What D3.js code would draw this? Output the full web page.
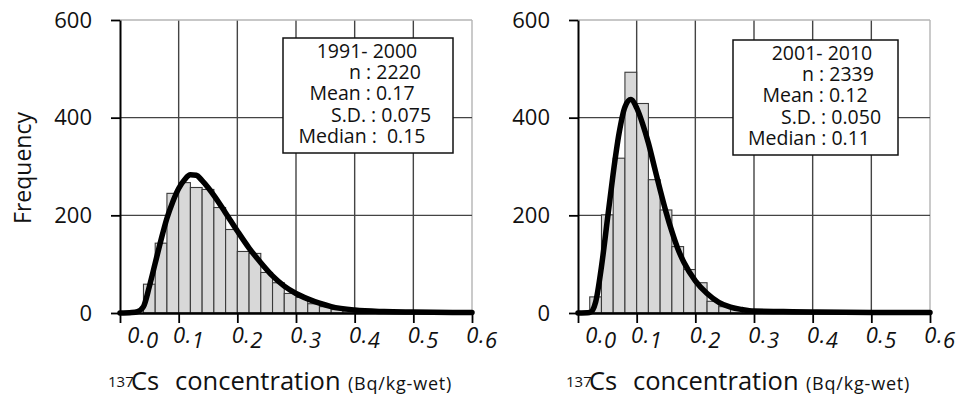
<!DOCTYPE html>
<html>
<head>
<meta charset="utf-8">
<script src="https://cdn.jsdelivr.net/npm/d3@7"></script>
<style>
  body { margin: 0; background: #fff; }
  svg { display: block; font-family: "Open Sans", sans-serif; }
</style>
</head>
<body>
<svg id="chart" width="960" height="405"></svg>
<script>
// histogram bins: left edge of each bin (Bq/kg-wet), all bins 0.02 wide
const binWidth = 0.02;
const leftBins = [0.04, 0.06, 0.08, 0.10, 0.12, 0.14, 0.16, 0.18, 0.20, 0.22, 0.24,
  0.26, 0.28, 0.30, 0.32, 0.34, 0.36, 0.38, 0.40, 0.42, 0.44, 0.46];
const leftCounts = [59, 143, 245, 267, 257, 253, 216, 171, 126, 122, 83,
  62, 40, 32, 19, 13, 7, 4, 3, 2, 2, 1];

const rightBins = [0.02, 0.04, 0.06, 0.08, 0.10, 0.12, 0.14, 0.16, 0.18, 0.20,
  0.22, 0.24, 0.26, 0.28, 0.30];
const rightCounts = [33, 201, 317, 493, 429, 273, 211, 136, 89, 62, 24, 13, 7, 3, 2];

// fitted curves
const leftCurveX = [0, 0.02, 0.03, 0.04, 0.05, 0.06, 0.07, 0.08, 0.09, 0.10, 0.11, 0.12,
  0.13, 0.14, 0.15, 0.16, 0.18, 0.20, 0.22, 0.24, 0.26, 0.28, 0.30, 0.32, 0.34, 0.36,
  0.40, 0.45, 0.50, 0.60];
const leftCurveY = [0, 1, 3, 13, 54, 102, 150, 194, 228, 255, 273, 283,
  282, 271, 257, 241, 205, 168, 133, 103, 76, 55, 40, 29, 20, 13,
  6, 3, 2, 1];

const rightCurveX = [0, 0.02, 0.025, 0.03, 0.04, 0.05, 0.06, 0.07, 0.08, 0.09, 0.10, 0.11,
  0.12, 0.13, 0.14, 0.15, 0.16, 0.17, 0.18, 0.20, 0.22, 0.24, 0.26, 0.28, 0.30, 0.35,
  0.40, 0.50, 0.60];
const rightCurveY = [0, 1, 6, 22, 95, 190, 286, 368, 422, 437, 420, 388,
  348, 300, 252, 207, 167, 132, 105, 66, 40, 22, 12, 7, 4, 3,
  2, 1, 1];

const xTicks = [0, 0.1, 0.2, 0.3, 0.4, 0.5, 0.6];
const yTicks = [0, 200, 400, 600];

const leftStats = ["1991- 2000", "n : 2220", "Mean : 0.17", "S.D. : 0.075", "Median :  0.15"];
const rightStats = ["2001- 2010", "n : 2339", "Mean : 0.12", "S.D. : 0.050", "Median : 0.11"];

const svg = d3.select("#chart");
svg.append("rect").attr("width", 960).attr("height", 405).attr("fill", "#fff");

function drawPanel(p) {
  const x = d3.scaleLinear().domain([0, 0.6]).range([p.left, p.left + 352]);
  const y = d3.scaleLinear().domain([0, 600]).range([313, 20]);
  const g = svg.append("g");

  // grid lines (top and right ones are the light frame)
  g.selectAll(".vgrid").data(xTicks.slice(1)).join("line")
    .attr("x1", d => x(d)).attr("x2", d => x(d))
    .attr("y1", y(0)).attr("y2", y(600))
    .attr("stroke", d => d === 0.6 ? "#b4b4b4" : "#444")
    .attr("stroke-width", 1.4);
  g.selectAll(".hgrid").data(yTicks.slice(1)).join("line")
    .attr("x1", x(0)).attr("x2", x(0.6))
    .attr("y1", d => y(d)).attr("y2", d => y(d))
    .attr("stroke", d => d === 600 ? "#b4b4b4" : "#444")
    .attr("stroke-width", 1.4);

  // bars
  const bars = p.bins.map((b, i) => ({ x0: b, n: p.counts[i] }));
  g.selectAll(".bar").data(bars).join("rect")
    .attr("x", d => x(d.x0))
    .attr("width", d => x(d.x0 + binWidth) - x(d.x0))
    .attr("y", d => y(d.n))
    .attr("height", d => y(0) - y(d.n))
    .attr("fill", "#d8d8d8")
    .attr("stroke", "#3a3a3a")
    .attr("stroke-width", 1.1);

  // axes
  const yAxis = g.append("g")
    .attr("transform", `translate(${x(0)},0)`)
    .call(d3.axisLeft(y).tickValues(yTicks).tickSize(9).tickPadding(19).tickSizeOuter(0));
  yAxis.select(".domain").attr("stroke", "#000").attr("stroke-width", 2);
  yAxis.selectAll(".tick line").attr("stroke", "#000").attr("stroke-width", 1.8);
  yAxis.selectAll(".tick text")
    .attr("font-family", "'Open Sans', sans-serif")
    .attr("font-size", 22).attr("fill", "#111");

  const xAxis = g.append("g")
    .attr("transform", `translate(0,${y(0)})`)
    .call(d3.axisBottom(x).tickValues(xTicks).tickSize(10).tickFormat("").tickSizeOuter(0));
  xAxis.select(".domain").attr("stroke", "#000").attr("stroke-width", 2.5);
  xAxis.selectAll(".tick line").attr("stroke", "#000").attr("stroke-width", 1.8);

  // x tick labels: italic, last digit dropped, shifted right of the tick
  const lab = g.selectAll(".xlab").data(xTicks).join("text")
    .attr("x", d => x(d) + (d === 0 ? 23 : 10))
    .attr("y", 343)
    .attr("text-anchor", "middle")
    .attr("font-style", "italic")
    .attr("font-size", 22)
    .attr("letter-spacing", 0.5)
    .attr("fill", "#111");
  lab.append("tspan").text(d => d3.format(".1f")(d).slice(0, 2));
  lab.append("tspan").attr("dy", 5).text(d => d3.format(".1f")(d).slice(2));

  // fitted curve
  const pts = p.curveX.map((v, i) => [v, p.curveY[i]]);
  g.append("path")
    .datum(pts)
    .attr("d", d3.line().x(d => x(d[0])).y(d => y(d[1])).curve(d3.curveMonotoneX))
    .attr("fill", "none")
    .attr("stroke", "#000")
    .attr("stroke-width", 5.5)
    .attr("stroke-linejoin", "round")
    .attr("stroke-linecap", "round");

  // stats box
  g.append("rect")
    .attr("x", p.box.x).attr("y", p.box.y)
    .attr("width", p.box.w).attr("height", p.box.h)
    .attr("fill", "#fff").attr("stroke", "#111").attr("stroke-width", 1.5);
  g.selectAll(".stat").data(p.stats).join("text")
    .attr("x", (d, i) => p.statX[i])
    .attr("y", (d, i) => p.box.y + 20 + i * 21.2)
    .attr("text-anchor", "middle")
    .attr("font-size", 19.5)
    .attr("fill", "#111")
    .style("white-space", "pre")
    .text(d => d);

  // x axis title
  const t = g.append("text").attr("y", 390).attr("fill", "#111");
  t.append("tspan").attr("x", x(0) - 12).attr("dy", -3).attr("font-size", 15).text("137");
  t.append("tspan").attr("x", x(0) + 11).attr("dy", 3).attr("font-size", 25.5).text("Cs");
  t.append("tspan").attr("x", x(0) + 55).attr("font-size", 25.5).text("concentration");
  t.append("tspan").attr("x", x(0) + 228).attr("font-size", 18).attr("letter-spacing", 0.8).text("(Bq/kg-wet)");
}

drawPanel({
  left: 120, bins: leftBins, counts: leftCounts,
  curveX: leftCurveX, curveY: leftCurveY, stats: leftStats,
  box: { x: 283, y: 38, w: 170, h: 115 },
  statX: [367, 385, 362, 381, 362]
});
drawPanel({
  left: 578, bins: rightBins, counts: rightCounts,
  curveX: rightCurveX, curveY: rightCurveY, stats: rightStats,
  box: { x: 733, y: 40, w: 165, h: 115 },
  statX: [822, 838, 815, 831, 809]
});

// y axis title (left panel only)
svg.append("text")
  .attr("transform", "translate(31,168) rotate(-90)")
  .attr("text-anchor", "middle")
  .attr("font-size", 23)
  .attr("fill", "#111")
  .text("Frequency");
</script>
</body>
</html>
